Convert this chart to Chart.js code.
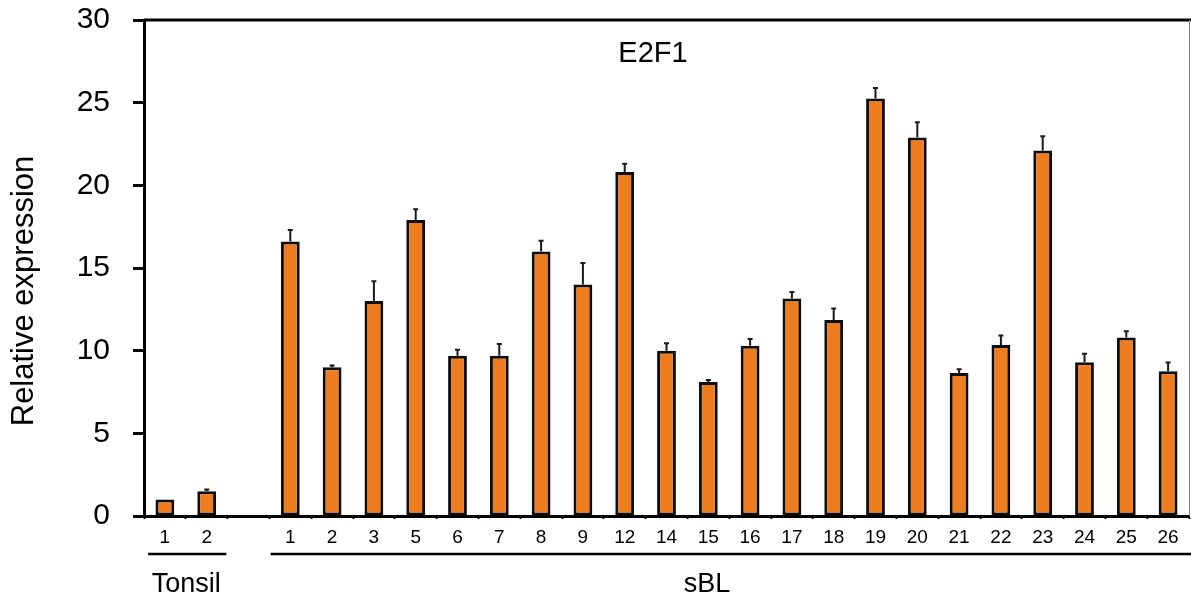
<!DOCTYPE html>
<html>
<head>
<meta charset="utf-8">
<script src="https://cdn.jsdelivr.net/npm/chart.js@4/dist/chart.umd.min.js"></script>
<style>
  html, body { margin: 0; padding: 0; background: #ffffff; }
  #wrap { width: 1191px; height: 605px; position: relative; }
</style>
</head>
<body>
<div id="wrap"><canvas id="c"></canvas></div>
<script>
// ---- data ----
const chartTitle = 'E2F1';
const yAxisTitle = 'Relative expression';
const yTicks = [0, 5, 10, 15, 20, 25, 30];

const tonsilLabels = ['1', '2'];
const tonsilValues = [1.0, 1.5];
const tonsilErrors = [0, 0.1];

const sblLabels = ['1','2','3','5','6','7','8','9','12','14','15','16','17','18','19','20','21','22','23','24','25','26'];
const sblValues = [16.6, 9.0, 13.0, 17.9, 9.7, 9.7, 16.0, 14.0, 20.8, 10.0, 8.1, 10.3, 13.15, 11.85, 25.25, 22.9, 8.65, 10.35, 22.1, 9.3, 10.8, 8.75];
const sblErrors = [0.7, 0.1, 1.2, 0.65, 0.35, 0.7, 0.65, 1.3, 0.5, 0.45, 0.12, 0.4, 0.4, 0.7, 0.63, 0.92, 0.22, 0.57, 0.87, 0.52, 0.38, 0.53];

const groupNames = ['Tonsil', 'sBL'];

// combined arrays with one empty slot between groups
const labels = [...tonsilLabels, '', ...sblLabels];
const values = [...tonsilValues, null, ...sblValues];
const errors = [...tonsilErrors, null, ...sblErrors];
const groupStart = [0, tonsilLabels.length + 1];
const groupEnd = [tonsilLabels.length - 1, labels.length - 1];

const FONT = "'Liberation Sans', Arial, Helvetica, sans-serif";

const decorPlugin = {
  id: 'decor',
  afterDatasetsDraw(chart) {
    const ctx = chart.ctx;
    const ys = chart.scales.y;
    const meta = chart.getDatasetMeta(0);
    // error bars (upper only)
    ctx.save();
    ctx.strokeStyle = '#1a1a1a';
    ctx.lineWidth = 2;
    meta.data.forEach((bar, i) => {
      const v = values[i], e = errors[i];
      if (v == null || !e) return;
      const x = bar.x;
      const y0 = ys.getPixelForValue(v);
      const y1 = ys.getPixelForValue(v + e);
      ctx.beginPath();
      ctx.moveTo(x, y0);
      ctx.lineTo(x, y1);
      ctx.moveTo(x - 2.5, y1);
      ctx.lineTo(x + 2.5, y1);
      ctx.stroke();
    });
    ctx.restore();
  },
  afterDraw(chart) {
    const ctx = chart.ctx;
    const ca = chart.chartArea;
    const xs = chart.scales.x;
    const slot = (ca.right - ca.left) / labels.length;
    ctx.save();
    // top frame line
    ctx.strokeStyle = '#000';
    ctx.lineWidth = 3;
    ctx.beginPath();
    ctx.moveTo(ca.left, ca.top);
    ctx.lineTo(chart.width, ca.top);
    ctx.stroke();
    // right frame (thin)
    ctx.strokeStyle = '#888';
    ctx.lineWidth = 1;
    ctx.beginPath();
    ctx.moveTo(ca.right + 0.5, ca.top);
    ctx.lineTo(ca.right + 0.5, ca.bottom);
    ctx.stroke();
    // title inside plot
    ctx.fillStyle = '#000';
    ctx.font = '29px ' + FONT;
    ctx.textAlign = 'center';
    ctx.textBaseline = 'alphabetic';
    ctx.fillText(chartTitle, 653, 62);
    // y-axis title
    ctx.save();
    ctx.translate(33, 291);
    ctx.rotate(-Math.PI / 2);
    ctx.font = '31px ' + FONT;
    ctx.textAlign = 'center';
    ctx.textBaseline = 'alphabetic';
    ctx.fillText(yAxisTitle, 0, 0);
    ctx.restore();
    // group lines and names
    ctx.strokeStyle = '#000';
    ctx.lineWidth = 2.5;
    ctx.font = '27px ' + FONT;
    groupNames.forEach((name, g) => {
      const x0 = xs.getPixelForValue(groupStart[g]) - (g === 0 ? 0.4 : 0.47) * slot;
      const x1 = g === groupNames.length - 1 ? chart.width : xs.getPixelForValue(groupEnd[g]) + 0.47 * slot;
      ctx.beginPath();
      ctx.moveTo(x0, 554);
      ctx.lineTo(x1, 554);
      ctx.stroke();
      const cx = g === 0 ? (x0 + x1) / 2 - 1 : 707;
      ctx.fillText(name, cx, 592);
    });
    ctx.restore();
  }
};

new Chart(document.getElementById('c'), {
  type: 'bar',
  data: {
    labels: labels,
    datasets: [{
      data: values,
      backgroundColor: '#EE7D1F',
      borderColor: '#0d0d0d',
      borderWidth: 3,
      borderSkipped: false,
      categoryPercentage: 1.0,
      barPercentage: 0.45
    }]
  },
  options: {
    responsive: true,
    maintainAspectRatio: false,
    animation: false,
    layout: { padding: { top: 20, right: 2, left: 0, bottom: 0 } },
    plugins: { legend: { display: false }, tooltip: { enabled: false }, title: { display: false } },
    scales: {
      x: {
        offset: true,
        grid: { display: true, drawOnChartArea: false, drawTicks: true, tickLength: 3, tickColor: '#000', tickWidth: 2, offset: true },
        border: { display: true, color: '#000', width: 3 },
        ticks: { color: '#000', font: { family: FONT, size: 19 }, padding: 7, maxRotation: 0, autoSkip: false },
        afterFit(s) { s.height = 89; s.paddingLeft = 0; s.paddingRight = 0; }
      },
      y: {
        min: 0, max: 30,
        afterBuildTicks(s) { s.ticks = yTicks.map(v => ({ value: v })); },
        grid: { display: true, drawOnChartArea: false, drawTicks: true, tickLength: 11, tickColor: '#000', tickWidth: 3 },
        border: { display: true, color: '#000', width: 3 },
        ticks: { color: '#000', font: { family: FONT, size: 30 }, padding: 23 },
        afterFit(s) { s.width = 144; s.paddingTop = 0; s.paddingBottom = 0; }
      }
    }
  },
  plugins: [decorPlugin]
});
</script>
</body>
</html>
